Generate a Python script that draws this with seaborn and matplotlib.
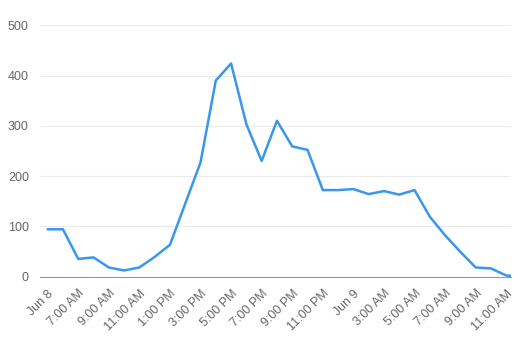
import matplotlib
matplotlib.use("Agg")
import matplotlib.pyplot as plt
import seaborn as sns
import pandas as pd

hours = list(range(32))
values = [94, 94, 35, 38, 18, 12, 18, 39, 63, 145, 227, 390, 424, 303, 230, 310,
          259, 252, 172, 172, 174, 164, 170, 163, 172, 119, 82, 49, 18, 16, 2, 0]
tick_hours = list(range(0, 31, 2))
tick_labels = ["Jun 8", "7:00 AM", "9:00 AM", "11:00 AM", "1:00 PM", "3:00 PM",
               "5:00 PM", "7:00 PM", "9:00 PM", "11:00 PM", "Jun 9", "3:00 AM",
               "5:00 AM", "7:00 AM", "9:00 AM", "11:00 AM"]
y_ticks = [0, 100, 200, 300, 400, 500]

df = pd.DataFrame({"hour": hours, "value": values})

sns.set_style("white")
plt.rcParams["font.family"] = ["Liberation Sans", "DejaVu Sans"]

fig = plt.figure(figsize=(5.14, 3.42), dpi=100)
ax = fig.add_axes([40 / 514, (342 - 276.5) / 342, (511 - 40) / 514, (276.5 - 25.3) / 342])

sns.lineplot(data=df, x="hour", y="value", ax=ax, color="#3897ec", linewidth=1.8)

ax.set_xlim(-0.5, 30.31)
ax.set_ylim(0, 500)
ax.set_yticks(y_ticks)
ax.set_yticklabels([str(v) for v in y_ticks])
ax.set_xticks(tick_hours)
ax.set_xticklabels(tick_labels, rotation=45, ha="right", va="top", rotation_mode="anchor")
ax.set_xlabel("")
ax.set_ylabel("")

ax.grid(axis="y", color="#ebebeb", linewidth=0.8)
ax.grid(axis="x", visible=False)
ax.set_axisbelow(True)
for s in ["top", "right", "left"]:
    ax.spines[s].set_visible(False)
ax.spines["bottom"].set_color("#999999")
ax.spines["bottom"].set_linewidth(0.8)

ax.tick_params(axis="x", length=4, width=0.8, color="#999999", labelsize=9,
               labelcolor="#666666", pad=4)
ax.tick_params(axis="y", length=0, labelsize=9, labelcolor="#666666", pad=8)

fig.savefig("out.png", dpi=100)
